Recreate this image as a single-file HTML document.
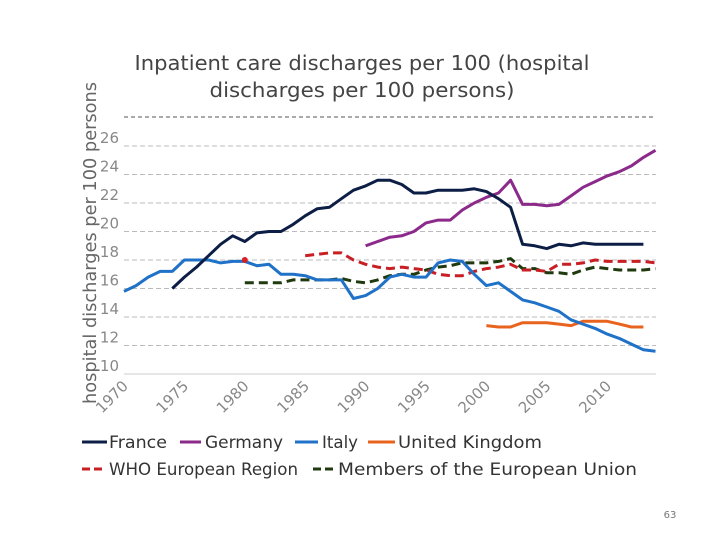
<!DOCTYPE html>
<html><head><meta charset="utf-8"><style>
body{margin:0;background:#fff;}
svg text{font-family:"DejaVu Sans","Liberation Sans",sans-serif;}
</style></head><body>
<svg id="chart" width="720" height="540" xmlns="http://www.w3.org/2000/svg">
<text x="362" y="70" text-anchor="middle" font-size="20" fill="#444" textLength="455" lengthAdjust="spacingAndGlyphs">Inpatient care discharges per 100 (hospital</text>
<text x="362" y="97" text-anchor="middle" font-size="20" fill="#444" textLength="305" lengthAdjust="spacingAndGlyphs">discharges per 100 persons)</text>
<text transform="translate(96,243) rotate(-90)" text-anchor="middle" font-size="18" fill="#666" textLength="322" lengthAdjust="spacingAndGlyphs">hospital discharges per 100 persons</text>
<line x1="124" y1="117" x2="656" y2="117" stroke="#555" stroke-width="1" stroke-dasharray="4,3"/>
<g id="grid"></g><g id="series"></g>
<text x="670" y="518" text-anchor="middle" font-size="10" fill="#777">63</text>
<g id="legend"></g>
</svg>
<script>
const years=[];for(let y=1970;y<=2014;y++)years.push(y);
const yTicks=[10,12,14,16,18,20,22,24,26];
const xTicks=[1970,1975,1980,1985,1990,1995,2000,2005,2010];
const franceStart=1974;
const france=[16,16.8,17.5,18.3,19.1,19.7,19.3,19.9,20,20,20.5,21.1,21.6,21.7,22.3,22.9,23.2,23.6,23.6,23.3,22.7,22.7,22.9,22.9,22.9,23.0,22.8,22.3,21.7,19.1,19.0,18.8,19.1,19.0,19.2,19.1,19.1,19.1,19.1,19.1];
const germanyStart=1990;
const germany=[19.0,19.3,19.6,19.7,20.0,20.6,20.8,20.8,21.5,22.0,22.4,22.7,23.6,21.9,21.9,21.8,21.9,22.5,23.1,23.5,23.9,24.2,24.6,25.2,25.7];
const italyStart=1970;
const italy=[15.8,16.2,16.8,17.2,17.2,18.0,18.0,18.0,17.8,17.9,17.9,17.6,17.7,17.0,17.0,16.9,16.6,16.6,16.6,15.3,15.5,16.0,16.8,17.0,16.8,16.8,17.8,18.0,17.9,17.0,16.2,16.4,15.8,15.2,15.0,14.7,14.4,13.8,13.5,13.2,12.8,12.5,12.1,11.7,11.6];
const ukStart=2000;
const uk=[13.4,13.3,13.3,13.6,13.6,13.6,13.5,13.4,13.7,13.7,13.7,13.5,13.3,13.3];
const whoStart=1985;
const who=[18.3,18.4,18.5,18.5,18.0,17.7,17.5,17.4,17.5,17.4,17.3,17.0,16.9,16.9,17.2,17.4,17.5,17.7,17.3,17.3,17.2,17.7,17.7,17.8,18.0,17.9,17.9,17.9,17.9,17.8];
const euStart=1980;
const eu=[16.4,16.4,16.4,16.4,16.6,16.6,16.6,16.6,16.7,16.5,16.4,16.6,16.9,17.0,17.0,17.3,17.5,17.6,17.8,17.8,17.8,17.9,18.1,17.4,17.4,17.1,17.1,17.0,17.3,17.5,17.4,17.3,17.3,17.3,17.4];
const markerYear=1980, markerValue=18;
const NS="http://www.w3.org/2000/svg";
const xS=y=>124+(y-1970)*12.08;
const yS=v=>374-(v-10)*14.25;
function mk(tag,attrs,parent){const e=document.createElementNS(NS,tag);for(const k in attrs)e.setAttribute(k,attrs[k]);parent.appendChild(e);return e;}
const grid=document.getElementById('grid');
yTicks.forEach(v=>{
  const l=mk('line',{x1:124,x2:656,y1:yS(v),y2:yS(v),stroke:v===10?'#ccc':'#bbb','stroke-dasharray':v===10?'':'5,3','stroke-width':1},grid);
  
  
  const t=mk('text',{x:119,y:yS(v)-3,'text-anchor':'end','font-size':15,fill:'#888'},grid);t.textContent=v;
  
  
});
xTicks.forEach(y=>{
  const t=mk('text',{transform:`translate(${xS(y)+5},${387}) rotate(-45)`,'text-anchor':'end','font-size':15,fill:'#888'},grid);t.textContent=y;
  
  
});
const sg=document.getElementById('series');
function line(start,vals,color,dash,name){
  const pts=vals.map((v,i)=>xS(start+i).toFixed(1)+','+yS(v).toFixed(1)).join(' ');
  const p=mk('polyline',{points:pts,fill:'none',stroke:color,'stroke-width':3,'stroke-dasharray':dash,'stroke-linejoin':'round'},sg);
  
  
}
line(euStart,eu,'#1f3a0f','9,5','line-eu');
line(whoStart,who,'#c81e24','9,5','line-who-europe');
line(ukStart,uk,'#e8641e','','line-uk');
line(italyStart,italy,'#1f72c8','','line-italy');
line(germanyStart,germany,'#8b2a8a','','line-germany');
line(franceStart,france,'#0c1e45','','line-france');
const dot=mk('circle',{cx:xS(markerYear),cy:yS(markerValue),r:3,fill:'#d61f26'},sg);


const lg=document.getElementById('legend');
const items=[['France','#0c1e45','',82,107,109,442,58],['Germany','#8b2a8a','',180,201,205,442,78],['Italy','#1f72c8','',295,318,322,442,36],['United Kingdom','#e8641e','',368,395,398,442,144],['WHO European Region','#c81e24','8,4',82,105,109,469,189],['Members of the European Union','#1f3a0f','8,4',313,335,338,469,299]];
items.forEach(([n,c,d,x1,x2,tx,y,w])=>{
  const g=mk('g',{},lg);
  
  
  mk('line',{x1:x1,x2:x2,y1:y,y2:y,stroke:c,'stroke-width':3,'stroke-dasharray':d},g);
  const t=mk('text',{x:tx,y:y+6,'font-size':17,fill:'#333',textLength:w,lengthAdjust:'spacingAndGlyphs'},g);t.textContent=n;
});
</script>
</body></html>
